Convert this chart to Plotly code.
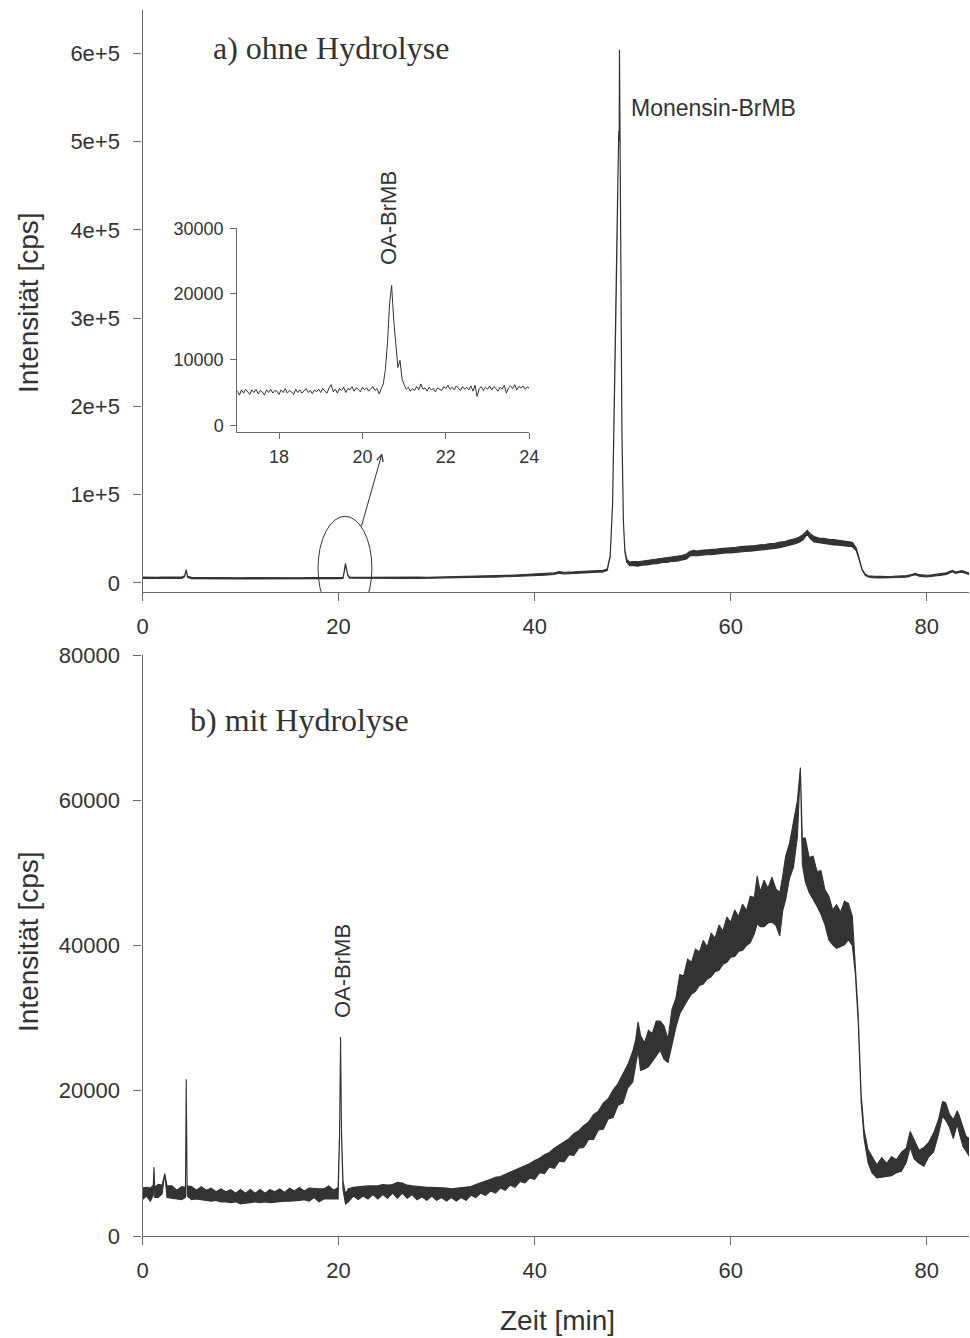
import numpy as np
import plotly.graph_objects as go

# ---------------------------------------------------------------------------
# a) ohne Hydrolyse: retention time [min], signal centre and noise half-width [cps]
top_time = [
    0, 0.5, 1, 1.5, 2, 2.5, 3, 3.5, 4, 4.3,
    4.45, 4.6, 5, 6, 7, 8, 9, 10, 11, 12,
    13, 14, 15, 16, 17, 18, 19, 20, 20.45, 20.58,
    20.7, 20.8, 20.95, 21.15, 21.5, 22, 23, 24, 25, 26,
    27, 28, 29, 30, 31, 32, 33, 34, 35, 36,
    37, 38, 39, 40, 41, 42, 42.5, 43, 44, 45,
    46, 47, 47.4, 47.7, 47.95, 48.15, 48.35, 48.5, 48.58, 48.62,
    48.65, 48.7, 48.78, 48.9, 49.05, 49.2, 49.4, 49.7, 50, 50.5,
    51, 51.5, 52, 52.5, 53, 53.5, 54, 54.5, 55, 55.5,
    55.8, 56.2, 56.6, 57, 57.5, 58, 58.5, 59, 59.5, 60,
    60.5, 61, 61.5, 62, 62.5, 63, 63.5, 64, 64.5, 65,
    65.5, 66, 66.5, 67, 67.4, 67.8, 68.1, 68.5, 69, 69.5,
    70, 70.5, 71, 71.5, 72, 72.4, 72.8, 73.1, 73.4, 73.7,
    74.0, 74.5, 75, 75.5, 76, 76.5, 77, 77.5, 78, 78.4,
    78.8, 79.2, 79.6, 80, 80.5, 81, 81.5, 82, 82.3, 82.6,
    82.9, 83.2, 83.6, 84, 84.4,
]
top_mid = [
    5800, 5600, 5900, 5700, 6000, 5800, 5700, 5900, 5800, 7500,
    15000, 6800, 5600, 5500, 5700, 5400, 5300, 5200, 5300, 5200,
    5300, 5200, 5300, 5200, 5300, 5200, 5400, 5400, 5600, 13000,
    22000, 15000, 8500, 6000, 5500, 5500, 5600, 5700, 5600, 5700,
    5600, 5800, 5800, 5900, 6000, 6300, 6500, 6800, 7100, 7400,
    7700, 8100, 8500, 9000, 9600, 10400, 11800, 11200, 11500, 12000,
    12600, 13300, 15000, 30000, 90000, 200000, 350000, 465000, 512000, 500000,
    604000, 540000, 380000, 170000, 70000, 36000, 25000, 21500, 22000, 21500,
    22500, 23000, 24000, 24500, 25500, 26000, 27000, 27500, 28500, 30000,
    33000, 34000, 33500, 34000, 34500, 35000, 35500, 36000, 36500, 37000,
    37500, 38000, 38500, 39000, 39500, 40000, 40500, 41500, 42000, 43000,
    44000, 45500, 47000, 49000, 52000, 57500, 53000, 49500, 48000, 47500,
    46500, 46000, 45500, 45000, 44500, 43500, 38000, 27000, 15000, 9500,
    7500, 6800, 6500, 6400, 6400, 6500, 6700, 7000, 7600, 8500,
    10000, 8500, 7800, 7800, 8200, 8800, 9500, 10500, 12000, 13500,
    11500, 12500, 13000, 11500, 10000,
]
top_spread = [
    700, 600, 700, 600, 700, 600, 700, 600, 700, 500,
    0, 500, 700, 600, 700, 600, 700, 600, 700, 600,
    700, 600, 700, 600, 700, 600, 700, 600, 500, 300,
    0, 300, 400, 500, 600, 700, 600, 700, 600, 700,
    600, 700, 600, 700, 600, 700, 700, 700, 700, 800,
    800, 800, 800, 800, 800, 900, 900, 900, 900, 900,
    900, 900, 800, 500, 0, 0, 0, 0, 0, 0,
    0, 0, 0, 0, 0, 800, 1500, 2000, 2200, 2500,
    2300, 2600, 2400, 2700, 2400, 2700, 2500, 2800, 2500, 2800,
    2600, 2900, 2600, 2900, 2600, 3000, 2700, 2900, 2600, 3000,
    2700, 3000, 2700, 3000, 2800, 3100, 2800, 3000, 2800, 3100,
    2800, 3000, 2800, 3000, 2800, 2000, 2800, 3000, 2800, 3000,
    2800, 3000, 2800, 3000, 2800, 2500, 1500, 800, 500, 500,
    600, 800, 800, 900, 800, 900, 800, 900, 800, 800,
    700, 800, 800, 900, 800, 900, 800, 900, 800, 700,
    800, 800, 800, 900, 800,
]

# Inset: OA-BrMB region of run a), sampled every 0.05 min from 17 to 24 min
inset_counts = [
    5300, 4600, 5400, 4900, 5500, 5100, 4700, 5400, 5000, 5500,
    4800, 5300, 5100, 4600, 5400, 5000, 5500, 4900, 5300, 5200,
    4700, 5400, 5000, 5600, 4900, 5300, 5100, 4700, 5500, 5000,
    5400, 4900, 5200, 5600, 5000, 5300, 4800, 5400, 5100, 5500,
    5000, 5600, 5200, 4900, 5700, 6200, 5100, 5500, 4900, 5600,
    5300, 5800, 5000, 5600, 5400, 5900, 5200, 5700, 5500, 5100,
    5800, 5400, 5700, 5200, 5600, 5900, 5300, 5600, 4800, 5600,
    6300, 8500, 12500, 18500, 21300, 16000, 12000, 8800, 9900, 7000,
    6200, 5500, 5800, 5200, 5600, 5300, 5900, 5400, 6300, 5500,
    5700, 5200, 5800, 5400, 5600, 5100, 5700, 5500, 5300, 5900,
    5600, 6100, 5500, 5800, 5400, 6000, 5700, 5300, 5900, 5500,
    5800, 5400, 6000, 5200, 6100, 4400, 5600, 5900, 5300, 5800,
    5500, 6000, 5400, 5900, 5600, 5200, 5800, 5500, 6100, 4900,
    5700, 6000, 5600, 6200, 5400, 5900, 5700, 6000, 5500, 5800,
    5700,
]
inset_time = np.round(17 + 0.05 * np.arange(len(inset_counts)), 2)

# ---------------------------------------------------------------------------
# b) mit Hydrolyse: retention time [min], signal centre and noise half-width [cps]
bot_time = [
    0, 0.4, 0.8, 1.1, 1.17, 1.25, 1.6, 2.0, 2.27, 2.5,
    3.0, 3.5, 4.0, 4.38, 4.46, 4.55, 5.0, 5.5, 6.0, 6.5,
    7.0, 7.5, 8.0, 8.5, 9.0, 9.5, 10.0, 10.5, 11.0, 11.5,
    12.0, 12.5, 13.0, 13.5, 14.0, 14.5, 15.0, 15.5, 16.0, 16.5,
    17.0, 17.5, 18.0, 18.5, 19.0, 19.5, 19.95, 20.1, 20.2, 20.3,
    20.45, 20.7, 21.0, 21.5, 22.0, 22.5, 23.0, 23.5, 24.0, 24.5,
    25.0, 25.5, 26.0, 26.5, 27.0, 27.5, 28.0, 28.5, 29.0, 29.5,
    30.0, 30.5, 31.0, 31.5, 32.0, 32.5, 33.0, 33.5, 34.0, 34.5,
    35.0, 35.5, 36.0, 36.5, 37.0, 37.5, 38.0, 38.5, 39.0, 39.5,
    40.0, 40.5, 41.0, 41.5, 42.0, 42.5, 43.0, 43.5, 44.0, 44.5,
    45.0, 45.5, 46.0, 46.5, 47.0, 47.5, 48.0, 48.5, 49.0, 49.5,
    50.0, 50.3, 50.55, 50.8, 51.2, 51.6, 52.0, 52.4, 52.8, 53.2,
    53.6, 54.0, 54.4, 54.8, 55.2, 55.6, 56.0, 56.4, 56.8, 57.2,
    57.6, 58.0, 58.4, 58.8, 59.2, 59.6, 60.0, 60.4, 60.8, 61.2,
    61.6, 62.0, 62.4, 62.7, 63.0, 63.4, 63.8, 64.2, 64.6, 65.0,
    65.3, 65.6, 66.0, 66.4, 66.8, 67.1, 67.3, 67.6, 68.0, 68.4,
    68.8, 69.2, 69.6, 70.0, 70.4, 70.8, 71.2, 71.6, 72.0, 72.4,
    72.7, 73.0, 73.3, 73.6, 74.0, 74.4, 74.9, 75.4, 75.9, 76.4,
    76.9, 77.4, 77.9, 78.3, 78.7, 79.2, 79.7, 80.2, 80.7, 81.2,
    81.6, 81.9, 82.3, 82.7, 83.1, 83.3, 83.7, 84.0, 84.4,
]
bot_mid = [
    5800, 6100, 5700, 6300, 9500, 6000, 6200, 6400, 8600, 6100,
    6000, 5700, 5900, 6000, 21600, 6200, 5900, 5700, 5900, 5600,
    5700, 5500, 5600, 5400, 5500, 5300, 5400, 5200, 5500, 5300,
    5500, 5300, 5500, 5400, 5600, 5400, 5700, 5500, 5800, 5600,
    5700, 5900, 5600, 5800, 6000, 5700, 5900, 14000, 27400, 14000,
    7000, 5100, 5600, 6100, 5900, 6200, 6000, 6300, 6000, 6400,
    6100, 6500, 6300, 6600, 6100, 6300, 5900, 6100, 5800, 6100,
    5800, 6000, 5700, 5900, 5700, 6000, 5800, 6200, 6200, 6600,
    6600, 7000, 7000, 7400, 7400, 7900, 7900, 8400, 8500, 9000,
    9100, 9700, 9900, 10500, 10700, 11400, 11600, 12300, 12600, 13300,
    13700, 14500, 15000, 15900, 16500, 17500, 18200, 19500, 20300, 22000,
    23300, 25300, 27500, 25200, 24800, 25800, 26000, 27200, 27600, 26600,
    25500, 28800, 30700, 33300, 33700, 35300, 35500, 36600, 36800, 37700,
    37600, 38700, 38700, 39700, 39700, 40800, 40800, 41700, 41600, 42500,
    42400, 43600, 44100, 46300, 45000, 45800, 45500, 46300, 45300, 44300,
    47200, 49300, 51700, 53800, 57500, 64500, 53000, 51800, 49700, 49300,
    47800, 47300, 45300, 43800, 42500, 42600, 42200, 43100, 43300, 42000,
    37000, 30000, 19000, 14000, 11000, 9800, 8900, 9500, 9100, 9600,
    9600, 10200, 11100, 13300, 11900, 10900, 10900, 11900, 12900, 15100,
    17500, 17200, 15900, 14700, 16300, 15400, 13600, 12700, 12100,
]
bot_spread = [
    800, 600, 900, 700, 0, 700, 900, 600, 0, 800,
    900, 600, 900, 700, 0, 700, 900, 600, 900, 700,
    900, 600, 900, 700, 900, 600, 1000, 700, 900, 600,
    900, 600, 900, 700, 900, 600, 900, 700, 900, 600,
    900, 600, 900, 700, 900, 600, 800, 300, 0, 300,
    600, 700, 900, 600, 900, 700, 900, 600, 900, 700,
    900, 600, 1100, 700, 900, 600, 900, 700, 900, 600,
    900, 700, 900, 600, 900, 700, 900, 600, 900, 700,
    1000, 800, 1100, 800, 1100, 900, 1200, 900, 1200, 1000,
    1300, 1000, 1300, 1000, 1400, 1100, 1400, 1100, 1500, 1200,
    1500, 1200, 1700, 1300, 1800, 1400, 1900, 1500, 2000, 1600,
    2100, 1700, 2000, 2400, 1800, 2500, 1900, 2400, 2000, 2300,
    1600, 2400, 2000, 2700, 2100, 2800, 2200, 2900, 2300, 3000,
    2200, 3000, 2300, 3100, 2300, 3100, 2400, 3200, 2400, 3200,
    2400, 3200, 2500, 3300, 2400, 3200, 2400, 3100, 2500, 3000,
    2400, 3000, 2400, 3000, 2500, 0, 1800, 3000, 2400, 3000,
    2400, 3000, 2400, 3000, 2400, 3000, 2400, 3000, 2500, 2000,
    800, 500, 500, 600, 900, 1100, 900, 1300, 900, 1300,
    900, 1300, 1000, 1100, 1300, 900, 1300, 1000, 1300, 1000,
    1000, 1200, 900, 1300, 900, 1200, 1300, 1000, 1300,
]

# Axis ticks
x_ticks = [0, 20, 40, 60, 80]
top_y_ticks = [0, 100000, 200000, 300000, 400000, 500000, 600000]
top_y_labels = ["0", "1e+5", "2e+5", "3e+5", "4e+5", "5e+5", "6e+5"]
bot_y_ticks = [0, 20000, 40000, 60000, 80000]
inset_x_ticks = [18, 20, 22, 24]
inset_y_ticks = [0, 10000, 20000, 30000]

# ---------------------------------------------------------------------------
W, H = 970, 1338
SANS = "Liberation Sans, Arial, sans-serif"
SERIF = "Liberation Serif, Times New Roman, serif"
INK = "#333336"
AXIS = "#6a6a6a"
TEXT = "#333333"


def fx(px):
    return px / W


def fy(py):
    return 1 - py / H


def band(t, mid, spread):
    """Closed outline of the noise envelope (upper edge forward, lower edge back)."""
    t = np.asarray(t, float)
    mid = np.asarray(mid, float)
    spread = np.asarray(spread, float)
    xs = np.concatenate([t, t[::-1]])
    ys = np.concatenate([mid + spread, (mid - spread)[::-1]])
    return xs, ys


fig = go.Figure()

xs, ys = band(top_time, top_mid, top_spread)
fig.add_trace(go.Scatter(x=xs, y=ys, xaxis="x", yaxis="y", mode="lines",
                         fill="toself", fillcolor=INK,
                         line=dict(color=INK, width=1.2), hoverinfo="skip"))

xs, ys = band(bot_time, bot_mid, bot_spread)
fig.add_trace(go.Scatter(x=xs, y=ys, xaxis="x2", yaxis="y2", mode="lines",
                         fill="toself", fillcolor=INK,
                         line=dict(color=INK, width=1.1), hoverinfo="skip"))

fig.add_trace(go.Scatter(x=inset_time, y=inset_counts, xaxis="x3", yaxis="y3",
                         mode="lines", line=dict(color=INK, width=1),
                         hoverinfo="skip"))

common = dict(showgrid=False, zeroline=False, showline=True, linecolor=AXIS,
              linewidth=1.3, ticks="outside", tickcolor=AXIS, tickwidth=1.3,
              ticklen=8, automargin=False,
              tickfont=dict(family=SANS, size=22, color=TEXT))
inset_common = dict(showgrid=False, zeroline=False, showline=True, linecolor=AXIS,
                    linewidth=1.1, ticks="outside", tickcolor=AXIS, tickwidth=1.1,
                    ticklen=6, automargin=False,
                    tickfont=dict(family=SANS, size=18, color=TEXT))

main_x_domain = [fx(142.5), fx(969)]

fig.update_layout(
    width=W, height=H,
    autosize=False,
    margin=dict(l=0, r=0, t=0, b=0, pad=0, autoexpand=False),
    paper_bgcolor="white", plot_bgcolor="rgba(0,0,0,0)",
    showlegend=False,
    xaxis=dict(domain=main_x_domain, range=[0, 84.3], anchor="y",
               tickvals=x_ticks, ticklabelstandoff=6, **common),
    yaxis=dict(domain=[fy(592), fy(10)], range=[-10300, 649000], anchor="x",
               tickvals=top_y_ticks, ticktext=top_y_labels,
               ticklabelstandoff=9, **common),
    xaxis2=dict(domain=main_x_domain, range=[0, 84.3], anchor="y2",
                tickvals=x_ticks, ticklabelstandoff=6, **common),
    yaxis2=dict(domain=[fy(1236), fy(655)], range=[0, 80000], anchor="x2",
                tickvals=bot_y_ticks, tickformat="d",
                ticklabelstandoff=9, **common),
    xaxis3=dict(domain=[fx(237.3), fx(529.3)], range=[17, 24], anchor="y3",
                tickvals=inset_x_ticks, ticklabelstandoff=3, **inset_common),
    yaxis3=dict(domain=[fy(431.7), fy(228.3)], range=[-970, 30000], anchor="x3",
                tickvals=inset_y_ticks, tickformat="d",
                ticklabelstandoff=3, **inset_common),
)

annotations = [
    # axis titles
    dict(text="Intensität [cps]", xref="paper", yref="paper", x=fx(28), y=fy(303),
         xanchor="center", yanchor="middle", textangle=-90, showarrow=False,
         font=dict(family=SANS, size=28, color=TEXT)),
    dict(text="Intensität [cps]", xref="paper", yref="paper", x=fx(28), y=fy(942),
         xanchor="center", yanchor="middle", textangle=-90, showarrow=False,
         font=dict(family=SANS, size=28, color=TEXT)),
    dict(text="Zeit [min]", xref="paper", yref="paper", x=fx(557), y=fy(1320),
         xanchor="center", yanchor="middle", showarrow=False,
         font=dict(family=SANS, size=28, color=TEXT)),
    # panel captions
    dict(text="a) ohne Hydrolyse", xref="x", yref="y", x=7.0, y=605500,
         xanchor="left", yanchor="middle", showarrow=False,
         font=dict(family=SERIF, size=32, color=TEXT)),
    dict(text="b) mit Hydrolyse", xref="x2", yref="y2", x=4.6, y=71000,
         xanchor="left", yanchor="middle", showarrow=False,
         font=dict(family=SERIF, size=32, color=TEXT)),
    # peak labels
    dict(text="Monensin-BrMB", xref="x", yref="y", x=49.6, y=538000,
         xanchor="left", yanchor="middle", showarrow=False,
         font=dict(family=SANS, size=23, color=TEXT)),
    dict(text="OA-BrMB", xref="paper", yref="paper", x=fx(389), y=fy(218),
         textangle=-90, xanchor="center", yanchor="middle", showarrow=False,
         font=dict(family=SANS, size=22, color=TEXT)),
    dict(text="OA-BrMB", xref="x2", yref="y2", x=20.46, y=36500, textangle=-90,
         xanchor="center", yanchor="middle", showarrow=False,
         font=dict(family=SANS, size=22, color=TEXT)),
    # pointer from the circled peak to the inset
    dict(text="", xref="x", yref="y", x=24.44, y=146900,
         axref="x", ayref="y", ax=22.3, ay=63000,
         showarrow=True, arrowhead=5, arrowsize=1.3, arrowwidth=1,
         arrowcolor=INK, standoff=0, startstandoff=0),
]
fig.update_layout(annotations=annotations)

# ellipse around the OA-BrMB peak in run a)
fig.add_shape(type="circle", xref="x", yref="y",
              x0=17.9, x1=23.4, y0=-42000, y1=75500,
              line=dict(color=INK, width=1))

fig.write_html("out.html")
